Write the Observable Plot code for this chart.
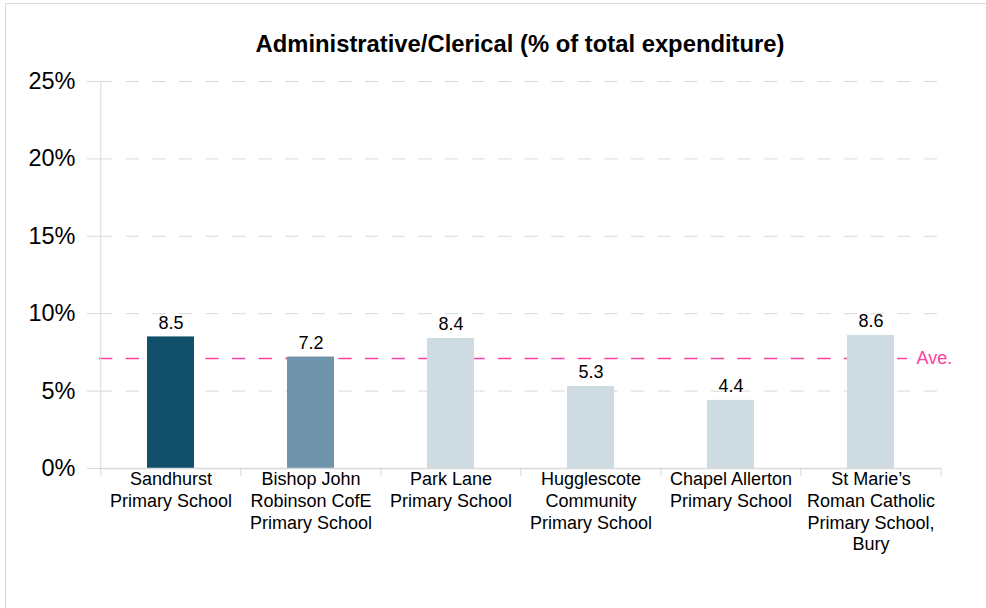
<!DOCTYPE html>
<html>
<head>
<meta charset="utf-8">
<script src="https://cdn.jsdelivr.net/npm/d3@7"></script>
<script src="https://cdn.jsdelivr.net/npm/@observablehq/plot@0.6"></script>
<style>
  html, body { margin: 0; padding: 0; background: #fff; }
  body { font-family: Arial, "Liberation Sans", sans-serif; }
  #wrap { position: relative; width: 986px; height: 608px; overflow: hidden; }
  #border { position: absolute; left: 5px; top: 3px; width: 1100px; height: 800px; border: 1px solid #d9d9d9; box-sizing: border-box; }
  #title { position: relative; height: 66px; box-sizing: border-box; padding-top: 31px; padding-left: 54px; width: 986px; text-align: center; font-size: 23.8px; font-weight: bold; line-height: 26px; color: #000; }
  #chart { position: relative; }
  #chart svg { display: block; }
</style>
</head>
<body>
<div id="wrap">
  <div id="border"></div>
  <div id="title">Administrative/Clerical (% of total expenditure)</div>
  <div id="chart"></div>
</div>
<script>
const schools = [
  "Sandhurst\nPrimary School",
  "Bishop John\nRobinson CofE\nPrimary School",
  "Park Lane\nPrimary School",
  "Hugglescote\nCommunity\nPrimary School",
  "Chapel Allerton\nPrimary School",
  "St Marie\u2019s\nRoman Catholic\nPrimary School,\nBury"
];
const values = [8.5, 7.2, 8.4, 5.3, 4.4, 8.6];
const average = 7.1;
const yTicks = [0, 5, 10, 15, 20, 25];
const barColors = ["#124f6b", "#7094ac", "#cfdbe3", "#cfdbe3", "#cfdbe3", "#cfdbe3"];

const data = schools.map((s, i) => ({school: s, value: values[i], color: barColors[i]}));

const W = 986, H = 542;
const mL = 99, mR = 45, mT = 15, mB = 140;
const step = (W - mL - mR) / schools.length;
const grid = "#d9d9d9";
const pink = "#ff40a0";
const dash = "13.3,13.3";

const chart = Plot.plot({
  width: W,
  height: H,
  marginLeft: mL,
  marginRight: mR,
  marginTop: mT,
  marginBottom: mB,
  style: {fontFamily: 'Arial, "Liberation Sans", sans-serif', background: "transparent", color: "#000"},
  x: {domain: schools, paddingInner: 0.665, paddingOuter: 0.3325, axis: null},
  y: {domain: [0, 25], axis: null},
  color: {type: "identity"},
  marks: [
    // dashed gridlines
    Plot.ruleY(yTicks.filter(d => d > 0), {stroke: grid, strokeWidth: 1, strokeDasharray: dash}),
    // average line
    Plot.ruleY([average], {stroke: pink, strokeWidth: 1.5, strokeDasharray: dash, insetRight: 34}),
    Plot.text([average], {y: d => d, text: () => "Ave.", frameAnchor: "right", textAnchor: "start", dx: -25, fill: pink, fontSize: 18}),
    // y axis
    Plot.axisY({ticks: yTicks, tickFormat: d => d + "%", label: null, tickSize: 12, tickPadding: 12, stroke: grid, fill: "#000", fontSize: 23.5}),
    // bars
    Plot.barY(data, {x: "school", y: "value", fill: "color"}),
    Plot.text(data, {x: "school", y: "value", text: d => d.value.toFixed(1), dy: -14, fontSize: 18, fill: "#000"}),
    // left axis line
    Plot.ruleX([schools[0]], {x: d => d, dx: -step / 2, y1: 0, y2: 25, stroke: grid}),
    // x axis line
    Plot.ruleY([0], {stroke: grid, strokeWidth: 1.5}),
    // category boundary ticks
    Plot.ruleX(schools, {x: d => d, dx: -step / 2, y1: 0, y2: 0, insetBottom: -8, stroke: grid}),
    Plot.ruleX([schools[schools.length - 1]], {x: d => d, dx: step / 2, y1: 0, y2: 0, insetBottom: -8, stroke: grid}),
    // x labels
    Plot.text(schools, {x: d => d, text: d => d, frameAnchor: "bottom", lineAnchor: "top", dy: 1.5, lineHeight: 1.2, fontSize: 18, fill: "#000"})
  ]
});
document.getElementById("chart").appendChild(chart);
</script>
</body>
</html>
